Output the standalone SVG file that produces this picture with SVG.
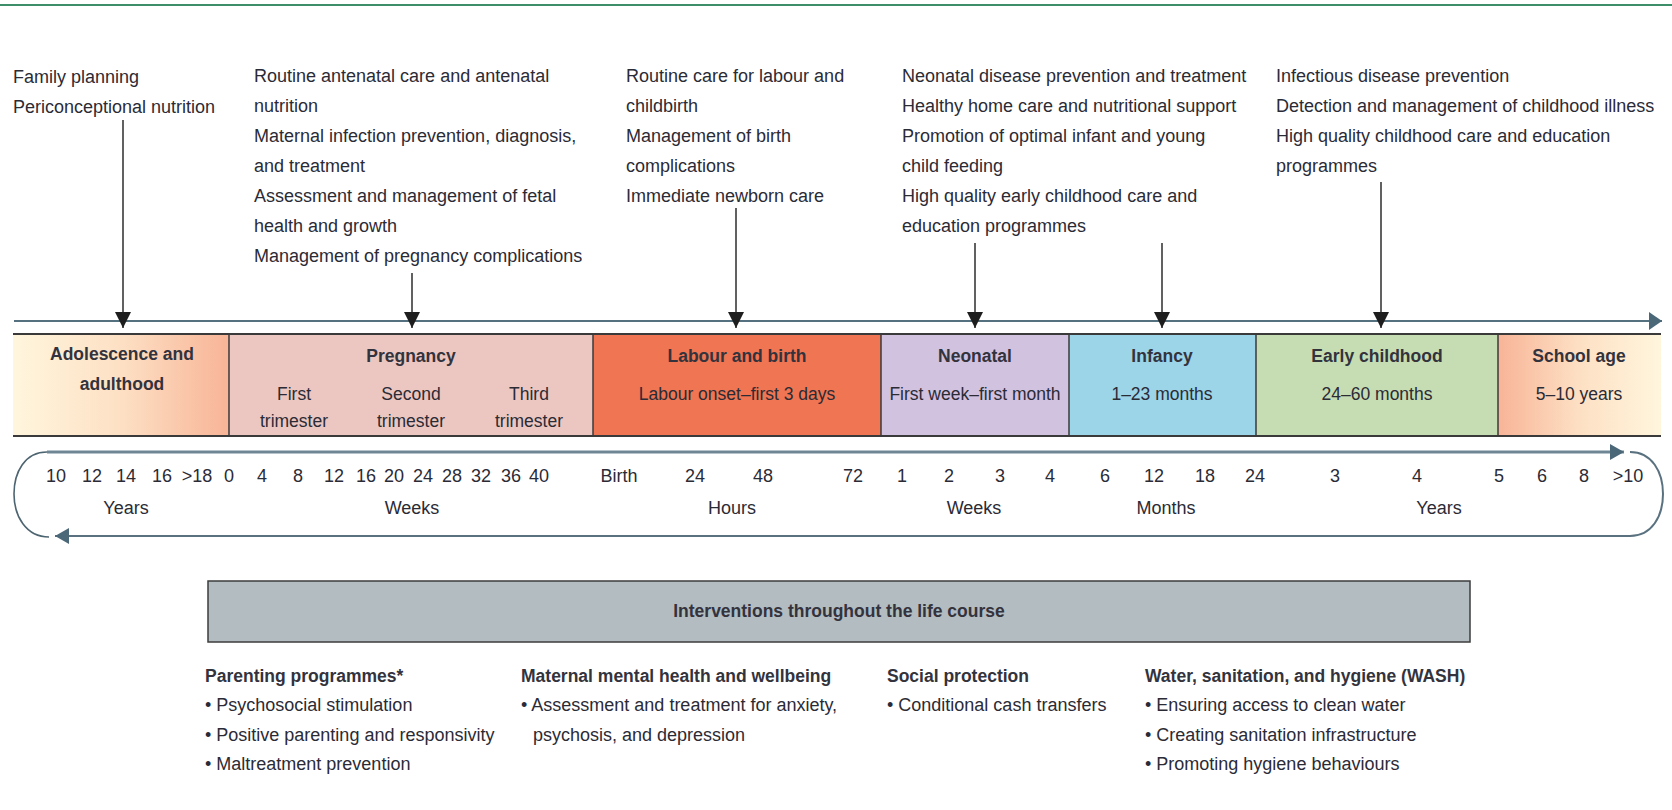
<svg xmlns="http://www.w3.org/2000/svg" width="1672" height="810" viewBox="0 0 1672 810">
<style>
text{font-family:"Liberation Sans",Arial,sans-serif;fill:#2b2b36;font-size:18px}
.b{font-weight:bold;font-size:17.5px;fill:#33333d}
.m{text-anchor:middle}
.sub{font-size:17.5px}
.div{stroke:#3a3a3a;stroke-width:1.5}
.edge{stroke:#3a3a3a;stroke-width:2}
.drop{stroke:#1e1e1e;stroke-width:1.4;fill:none;marker-end:url(#ah)}
</style>
<defs>
<linearGradient id="gAdol" x1="0" y1="0" x2="1" y2="0">
<stop offset="0" stop-color="#fff6dd"/>
<stop offset="0.5" stop-color="#fde0c4"/>
<stop offset="1" stop-color="#f8b497"/>
</linearGradient>
<linearGradient id="gSchool" x1="0" y1="0" x2="1" y2="0">
<stop offset="0" stop-color="#f8b497"/>
<stop offset="0.5" stop-color="#fde0c4"/>
<stop offset="1" stop-color="#fff6dd"/>
</linearGradient>
<marker id="ah" viewBox="0 0 16 16" refX="16" refY="8" markerWidth="16" markerHeight="16" markerUnits="userSpaceOnUse" orient="auto">
<path d="M0,0 L16,8 L0,16 z" fill="#1e1e1e"/>
</marker>
<marker id="axh" viewBox="0 0 13 18" refX="13" refY="9" markerWidth="13" markerHeight="18" markerUnits="userSpaceOnUse" orient="auto">
<path d="M0,0 L13,9 L0,18 z" fill="#4b6878"/>
</marker>
<marker id="rh" viewBox="0 0 14 16" refX="14" refY="8" markerWidth="14" markerHeight="16" markerUnits="userSpaceOnUse" orient="auto">
<path d="M0,0 L14,8 L0,16 z" fill="#4b6878"/>
</marker>
</defs>

<rect width="1672" height="810" fill="#ffffff"/>
<line x1="0" y1="5" x2="1672" y2="5" stroke="#3e8e69" stroke-width="2"/>

<!-- intervention lists (top) -->
<g id="int-preconception">
<text x="13" y="83">Family planning</text>
<text x="13" y="113">Periconceptional nutrition</text>
</g>
<g id="int-pregnancy">
<text x="254" y="82">Routine antenatal care and antenatal</text>
<text x="254" y="112">nutrition</text>
<text x="254" y="142">Maternal infection prevention, diagnosis,</text>
<text x="254" y="172">and treatment</text>
<text x="254" y="202">Assessment and management of fetal</text>
<text x="254" y="232">health and growth</text>
<text x="254" y="262">Management of pregnancy complications</text>
</g>
<g id="int-labour">
<text x="626" y="82">Routine care for labour and</text>
<text x="626" y="112">childbirth</text>
<text x="626" y="142">Management of birth</text>
<text x="626" y="172">complications</text>
<text x="626" y="202">Immediate newborn care</text>
</g>
<g id="int-neonatal">
<text x="902" y="82">Neonatal disease prevention and treatment</text>
<text x="902" y="112">Healthy home care and nutritional support</text>
<text x="902" y="142">Promotion of optimal infant and young</text>
<text x="902" y="172">child feeding</text>
<text x="902" y="202">High quality early childhood care and</text>
<text x="902" y="232">education programmes</text>
</g>
<g id="int-childhood">
<text x="1276" y="82">Infectious disease prevention</text>
<text x="1276" y="112">Detection and management of childhood illness</text>
<text x="1276" y="142">High quality childhood care and education</text>
<text x="1276" y="172">programmes</text>
</g>

<!-- life-stage bar -->
<g id="stage-adolescence">
<rect x="13" y="334" width="216" height="102" fill="url(#gAdol)"/>
<text class="b m" x="122" y="360">Adolescence and</text>
<text class="b m" x="122" y="390">adulthood</text>
</g>
<g id="stage-pregnancy">
<rect x="229" y="334" width="364" height="102" fill="#ecc7c1"/>
<text class="b m" x="411" y="362">Pregnancy</text>
<text class="sub m" x="294" y="400">First</text>
<text class="sub m" x="294" y="427">trimester</text>
<text class="sub m" x="411" y="400">Second</text>
<text class="sub m" x="411" y="427">trimester</text>
<text class="sub m" x="529" y="400">Third</text>
<text class="sub m" x="529" y="427">trimester</text>
</g>
<g id="stage-labour">
<rect x="593" y="334" width="288" height="102" fill="#f07552"/>
<text class="b m" x="737" y="362">Labour and birth</text>
<text class="sub m" x="737" y="400">Labour onset–first 3 days</text>
</g>
<g id="stage-neonatal">
<rect x="881" y="334" width="188" height="102" fill="#d1c2e0"/>
<text class="b m" x="975" y="362">Neonatal</text>
<text class="sub m" x="975" y="400">First week–first month</text>
</g>
<g id="stage-infancy">
<rect x="1069" y="334" width="187" height="102" fill="#9cd4e8"/>
<text class="b m" x="1162" y="362">Infancy</text>
<text class="sub m" x="1162" y="400">1–23 months</text>
</g>
<g id="stage-early">
<rect x="1256" y="334" width="242" height="102" fill="#c6ddb3"/>
<text class="b m" x="1377" y="362">Early childhood</text>
<text class="sub m" x="1377" y="400">24–60 months</text>
</g>
<g id="stage-school">
<rect x="1498" y="334" width="163" height="102" fill="url(#gSchool)"/>
<text class="b m" x="1579" y="362">School age</text>
<text class="sub m" x="1579" y="400">5–10 years</text>
</g>
<g id="bar-lines">
<line class="edge" x1="13" y1="334" x2="1661" y2="334"/>
<line class="edge" x1="13" y1="436" x2="1661" y2="436"/>
<line class="div" x1="229" y1="334" x2="229" y2="436"/>
<line class="div" x1="593" y1="334" x2="593" y2="436"/>
<line class="div" x1="881" y1="334" x2="881" y2="436"/>
<line class="div" x1="1069" y1="334" x2="1069" y2="436"/>
<line class="div" x1="1256" y1="334" x2="1256" y2="436"/>
<line class="div" x1="1498" y1="334" x2="1498" y2="436"/>
</g>

<!-- time scale -->
<g id="scale">
<text class="m" x="56" y="482">10</text>
<text class="m" x="92" y="482">12</text>
<text class="m" x="126" y="482">14</text>
<text class="m" x="162" y="482">16</text>
<text class="m" x="197" y="482">&gt;18</text>
<text class="m" x="229" y="482">0</text>
<text class="m" x="262" y="482">4</text>
<text class="m" x="298" y="482">8</text>
<text class="m" x="334" y="482">12</text>
<text class="m" x="366" y="482">16</text>
<text class="m" x="394" y="482">20</text>
<text class="m" x="423" y="482">24</text>
<text class="m" x="452" y="482">28</text>
<text class="m" x="481" y="482">32</text>
<text class="m" x="511" y="482">36</text>
<text class="m" x="539" y="482">40</text>
<text class="m" x="619" y="482">Birth</text>
<text class="m" x="695" y="482">24</text>
<text class="m" x="763" y="482">48</text>
<text class="m" x="853" y="482">72</text>
<text class="m" x="902" y="482">1</text>
<text class="m" x="949" y="482">2</text>
<text class="m" x="1000" y="482">3</text>
<text class="m" x="1050" y="482">4</text>
<text class="m" x="1105" y="482">6</text>
<text class="m" x="1154" y="482">12</text>
<text class="m" x="1205" y="482">18</text>
<text class="m" x="1255" y="482">24</text>
<text class="m" x="1335" y="482">3</text>
<text class="m" x="1417" y="482">4</text>
<text class="m" x="1499" y="482">5</text>
<text class="m" x="1542" y="482">6</text>
<text class="m" x="1584" y="482">8</text>
<text class="m" x="1628" y="482">&gt;10</text>
<text class="m" x="126" y="514">Years</text>
<text class="m" x="412" y="514">Weeks</text>
<text class="m" x="732" y="514">Hours</text>
<text class="m" x="974" y="514">Weeks</text>
<text class="m" x="1166" y="514">Months</text>
<text class="m" x="1439" y="514">Years</text>
</g>

<!-- interventions across life course -->
<g id="life-course-box">
<rect x="208" y="581" width="1262" height="61" fill="#b3bcc1" stroke="#3d3d3d" stroke-width="1.5"/>
<text class="b m" x="839" y="617">Interventions throughout the life course</text>
</g>
<g id="parenting">
<text class="b" x="205" y="682">Parenting programmes*</text>
<text x="205" y="711">• Psychosocial stimulation</text>
<text x="205" y="741">• Positive parenting and responsivity</text>
<text x="205" y="770">• Maltreatment prevention</text>
</g>
<g id="maternal-mental-health">
<text class="b" x="521" y="682">Maternal mental health and wellbeing</text>
<text x="521" y="711">• Assessment and treatment for anxiety,</text>
<text x="533" y="741">psychosis, and depression</text>
</g>
<g id="social-protection">
<text class="b" x="887" y="682">Social protection</text>
<text x="887" y="711">• Conditional cash transfers</text>
</g>
<g id="wash">
<text class="b" x="1145" y="682">Water, sanitation, and hygiene (WASH)</text>
<text x="1145" y="711">• Ensuring access to clean water</text>
<text x="1145" y="741">• Creating sanitation infrastructure</text>
<text x="1145" y="770">• Promoting hygiene behaviours</text>
</g>

<!-- connectors -->
<g id="connectors">
<line x1="14" y1="321" x2="1662" y2="321" stroke="#55707e" stroke-width="2" marker-end="url(#axh)"/>
<line class="drop" x1="123" y1="120" x2="123" y2="328"/>
<line class="drop" x1="412" y1="273" x2="412" y2="328"/>
<line class="drop" x1="736" y1="208" x2="736" y2="328"/>
<line class="drop" x1="975" y1="243" x2="975" y2="328"/>
<line class="drop" x1="1162" y1="243" x2="1162" y2="328"/>
<line class="drop" x1="1381" y1="182" x2="1381" y2="328"/>
<path d="M47,452 L1624,452" fill="none" stroke="#6f8795" stroke-width="3" marker-end="url(#rh)"/>
<path d="M47,452 C25,452 14,472 14,494 C14,516 26,537 49,537" fill="none" stroke="#4d6471" stroke-width="1.6"/>
<path d="M1630,452 C1652,452 1663,472 1663,494 C1663,516 1652,536 1630,536 L55,536" fill="none" stroke="#5a7280" stroke-width="2" marker-end="url(#rh)"/>
</g>
</svg>
